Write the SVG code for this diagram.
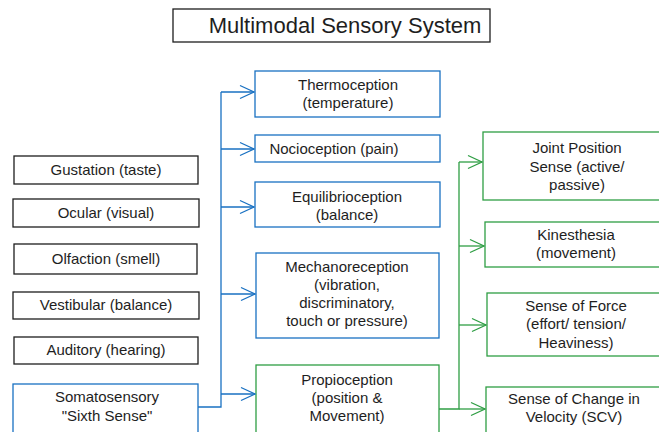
<svg xmlns="http://www.w3.org/2000/svg" width="659" height="432" viewBox="0 0 659 432">
<style>
text{font-family:"Liberation Sans","DejaVu Sans",sans-serif;font-size:15px;fill:#1e1e1e;text-anchor:middle}
.k{fill:#fff;stroke:#1e1e1e;stroke-width:1.3}
.b{fill:#fff;stroke:#1971c2;stroke-width:1.3}
.g{fill:#fff;stroke:#2f9e44;stroke-width:1.3}
.cb{fill:none;stroke:#1971c2;stroke-width:1.3}
.cg{fill:none;stroke:#2f9e44;stroke-width:1.3}
.title{font-size:22px}
</style>
<defs>
<marker id="ab" viewBox="0 0 16 16" refX="15" refY="8" markerWidth="16" markerHeight="16" markerUnits="userSpaceOnUse" orient="auto">
<polyline points="1,1.5 15,8 1,14.5" fill="none" stroke="#1971c2" stroke-width="1.3"/>
</marker>
<marker id="ag" viewBox="0 0 16 16" refX="15" refY="8" markerWidth="16" markerHeight="16" markerUnits="userSpaceOnUse" orient="auto">
<polyline points="1,1.5 15,8 1,14.5" fill="none" stroke="#2f9e44" stroke-width="1.3"/>
</marker>
</defs>
<rect width="659" height="432" fill="#fff"/>

<g id="title"><rect class="k" x="173" y="9" width="317" height="33"/><text class="title" x="345" y="33">Multimodal Sensory System</text></g>

<g id="gustation"><rect class="k" x="14" y="156" width="184" height="28"/><text x="106" y="175">Gustation (taste)</text></g>
<g id="ocular"><rect class="k" x="13" y="199" width="186" height="28"/><text x="106" y="218">Ocular (visual)</text></g>
<g id="olfaction"><rect class="k" x="14" y="244" width="183" height="30"/><text x="106" y="264">Olfaction (smell)</text></g>
<g id="vestibular"><rect class="k" x="13" y="292" width="186" height="27"/><text x="106" y="310">Vestibular (balance)</text></g>
<g id="auditory"><rect class="k" x="14" y="337" width="184" height="27"/><text x="106" y="355">Auditory (hearing)</text></g>
<g id="somatosensory"><rect class="b" x="13" y="384" width="185" height="52"/><text x="107" y="402">Somatosensory</text><text x="107" y="421">"Sixth Sense"</text></g>

<g id="thermoception"><rect class="b" x="255" y="71" width="185" height="46"/><text x="348" y="90">Thermoception</text><text x="348" y="108">(temperature)</text></g>
<g id="nocioception"><rect class="b" x="255" y="135" width="185" height="27"/><text x="334" y="154">Nocioception (pain)</text></g>
<g id="equilibrioception"><rect class="b" x="255" y="182" width="185" height="45"/><text x="347" y="202">Equilibrioception</text><text x="347" y="220">(balance)</text></g>
<g id="mechanoreception"><rect class="b" x="256" y="253" width="183" height="85"/><text x="347" y="272">Mechanoreception</text><text x="347" y="290">(vibration,</text><text x="347" y="308">discriminatory,</text><text x="347" y="326">touch or pressure)</text></g>
<g id="propioception"><rect class="g" x="256" y="365" width="183" height="71"/><text x="347" y="385">Propioception</text><text x="347" y="403">(position &amp;</text><text x="347" y="421">Movement)</text></g>

<g id="joint-position"><rect class="g" x="483" y="132" width="185" height="68"/><text x="577" y="153">Joint Position</text><text x="577" y="172">Sense (active/</text><text x="577" y="190">passive)</text></g>
<g id="kinesthesia"><rect class="g" x="485" y="222" width="183" height="45"/><text x="576" y="240">Kinesthesia</text><text x="576" y="258">(movement)</text></g>
<g id="sense-of-force"><rect class="g" x="487" y="293" width="181" height="63"/><text x="576" y="311">Sense of Force</text><text x="576" y="329">(effort/ tension/</text><text x="576" y="348">Heaviness)</text></g>
<g id="sense-of-change"><rect class="g" x="486" y="387" width="182" height="50"/><text x="574" y="404">Sense of Change in</text><text x="574" y="422">Velocity (SCV)</text></g>

<g id="connectors">
<path class="cb" d="M198,407 H221 V92"/>
<path class="cb" d="M221,92 H254" marker-end="url(#ab)"/>
<path class="cb" d="M221,149 H254" marker-end="url(#ab)"/>
<path class="cb" d="M221,207 H254" marker-end="url(#ab)"/>
<path class="cb" d="M221,294 H255" marker-end="url(#ab)"/>
<path class="cb" d="M221,394 H255" marker-end="url(#ab)"/>
<path class="cg" d="M439,409 H459 V162"/>
<path class="cg" d="M459,162 H482" marker-end="url(#ag)"/>
<path class="cg" d="M459,246 H484" marker-end="url(#ag)"/>
<path class="cg" d="M459,325 H486" marker-end="url(#ag)"/>
<path class="cg" d="M459,409 H485" marker-end="url(#ag)"/>
</g>
</svg>
